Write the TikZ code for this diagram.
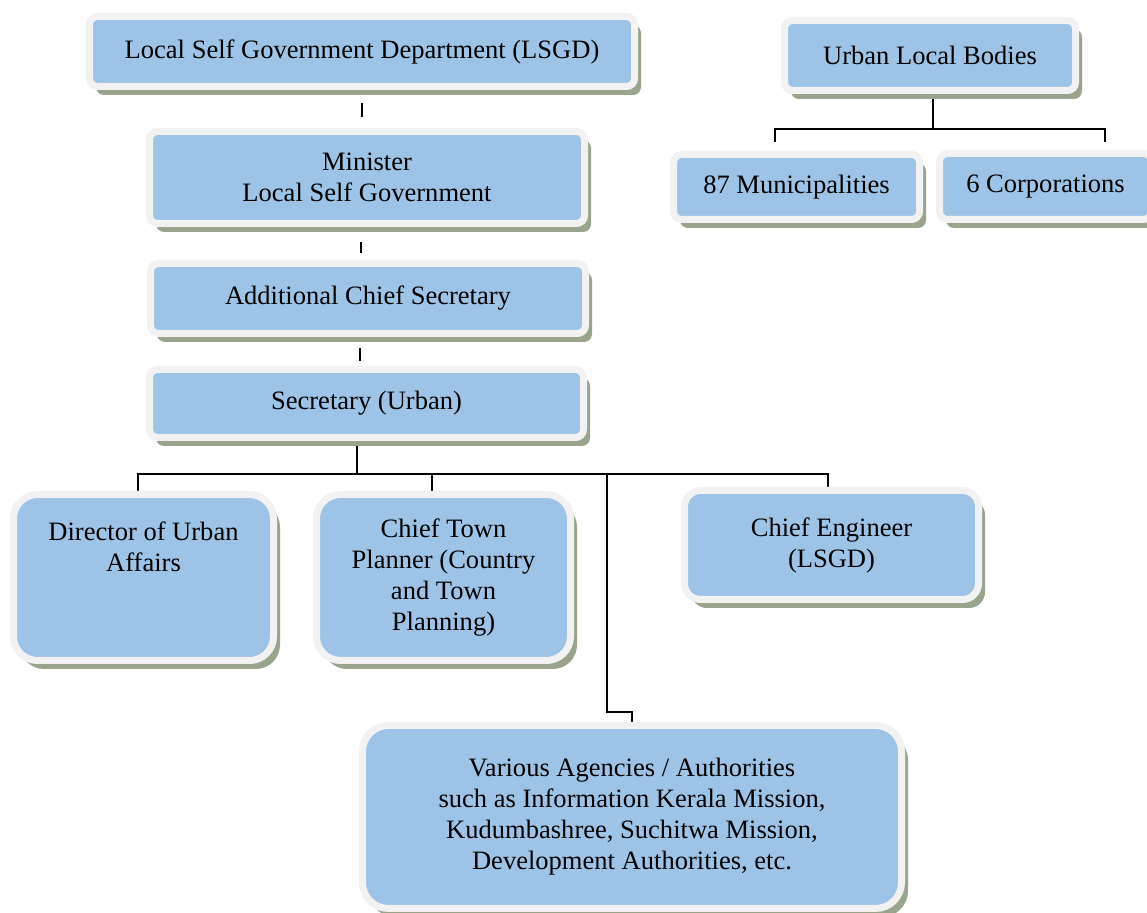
\documentclass[tikz,border=0pt]{standalone}
\usepackage{fontspec}
\setmainfont{Liberation Serif}
\usetikzlibrary{positioning,calc,shadows,backgrounds}
\definecolor{boxblue}{HTML}{9DC3E6}
\definecolor{rimgray}{HTML}{F2F2F2}
\definecolor{shadowgreen}{HTML}{98A48C}
\tikzstyle{link}=[line width=1pt, black]

\begin{document}
\begin{tikzpicture}[x=0.5pt, y=-0.5pt,
  font=\fontsize{13.27}{15.5}\selectfont,
  box/.style={draw=rimgray, line width=3.5pt, fill=boxblue, rounded corners=#1,
              align=center, inner sep=0pt,
              drop shadow={shadow xshift=3.25pt, shadow yshift=-4.25pt,
                           fill=shadowgreen, draw=none, opacity=1}},
  box/.default=4pt]
\useasboundingbox (0,0) rectangle (1147,913);
\node[box, minimum width=272.5pt, minimum height=35pt] (lsgd) at (362,51.5)
  {Local Self Government Department (LSGD)};
\node[box, minimum width=145.5pt, minimum height=35pt] (ulb) at (930,55.5)
  {Urban Local Bodies};
\node[box, minimum width=217.5pt, minimum height=46pt] (minister) at (367,177.5)
  {Minister\\Local Self Government};
\node[box, minimum width=217.5pt, minimum height=35pt] (acs) at (368,298.5)
  {Additional Chief Secretary};
\node[box, minimum width=217pt, minimum height=34pt] (secy) at (366.5,403.5)
  {Secretary (Urban)};
\node[box, minimum width=123pt, minimum height=32.5pt] (muni) at (796.5,187)
  {87 Municipalities};
\node[box, minimum width=106pt, minimum height=33pt] (corp) at (1045.5,186.5)
  {6 Corporations};
\node[box=12pt, minimum width=130pt, minimum height=83pt] (dua) at (143.5,577.5)
  {Director of Urban\\Affairs\\~\\~};
\node[box=12pt, minimum width=127pt, minimum height=83pt] (ctp) at (443.5,577.5)
  {Chief Town\\Planner (Country\\and Town\\Planning)};
\node[box=8pt, minimum width=147pt, minimum height=54.5pt] (ce) at (831.5,545)
  {Chief Engineer\\(LSGD)};
\node[box=13pt, minimum width=269.5pt, minimum height=91.5pt] (agency) at (632,817)
  {Various Agencies / Authorities\\such as Information Kerala Mission,\\Kudumbashree, Suchitwa Mission,\\Development Authorities, etc.};
\coordinate (hub) at (357,474);
\coordinate (jog) at (607,712);
\coordinate (ubar) at (933,129);
\coordinate (ubl) at (775,142);
\coordinate (ubr) at (1105,142);
\begin{scope}[on background layer]
\draw[link] ($(lsgd.south)+(0,13)$) -- ($(minister.north)+(-5,-11)$);
\draw[link] ($(minister.south)+(-6,15)$) -- ($(acs.north)+(-7,-7)$);
\draw[link] ($(acs.south)+(-8,11)$) -- ($(secy.north)+(-6.5,-5)$);
\draw[link] (secy.south -| hub) -- (hub);
\draw[link] ([xshift=-2.75pt]dua.north) |- (hub);
\draw[link] ([xshift=-5.75pt]ctp.north) |- (hub);
\draw[link] ([xshift=-1.75pt]ce.north) |- (hub);
\draw[link] (hub -| jog) -- (jog) -| (agency.north);
\draw[link] (ulb.south -| ubar) -- (ubar);
\draw[link] (ubl) |- (ubar) -| (ubr);
\end{scope}
\end{tikzpicture}
\end{document}
